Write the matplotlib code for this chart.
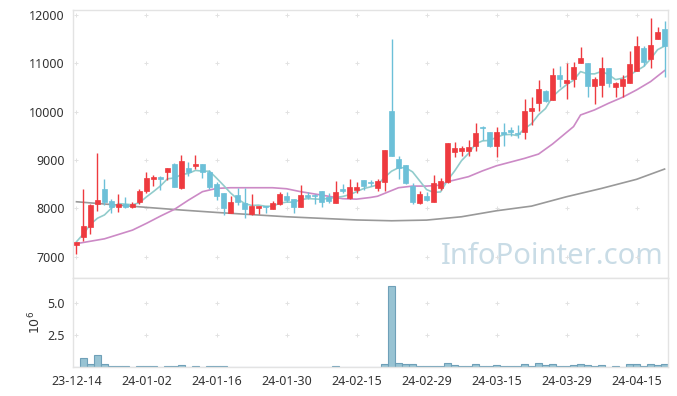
import numpy as np
import pandas as pd
import matplotlib
matplotlib.use("Agg")
import matplotlib.pyplot as plt
from matplotlib.patches import Rectangle

# trading days (KRX), 2023-12-14 .. 2024-04-19
holidays = ["2023-12-25", "2023-12-29", "2024-01-01", "2024-02-09",
            "2024-02-12", "2024-03-01", "2024-04-10"]
days = pd.bdate_range("2023-12-14", "2024-04-19")
days = days[~days.isin(pd.to_datetime(holidays))]

opens = [7250, 7415, 7620, 8090, 8410, 8150, 8020, 8090, 8020, 8122,
         8364, 8605, 8640, 8760, 8916, 8412, 8830, 8880, 8916, 8745,
         8503, 8310, 7908, 8267, 8115, 7880, 8012, 8046, 7990, 8088,
         8253, 8185, 8033, 8274, 8274, 8350, 8240, 8115, 8398, 8219,
         8377, 8584, 8550, 8426, 8550, 10013, 9012, 8895, 8467, 8102,
         8253, 8136, 8412, 8550, 9171, 9185, 9192, 9295, 9688, 9578,
         9295, 9578, 9620, 9564, 9585, 10020, 10186, 10434, 10240, 10758,
         10600, 10675, 11013, 11000, 10530, 10551, 10896, 10517, 10530, 10586,
         10848, 11310, 11082, 11496, 11703]
highs = [7310, 8410, 8080, 9137, 8600, 8190, 8290, 8240, 8140, 8410,
         8745, 8690, 8675, 8830, 8930, 9095, 8950, 9095, 8916, 8790,
         8550, 8310, 8253, 8426, 8426, 8288, 8046, 8046, 8143, 8336,
         8336, 8185, 8481, 8336, 8295, 8350, 8322, 8564, 8502, 8600,
         8550, 8584, 8584, 8600, 9205, 11496, 9081, 8895, 8529, 8364,
         8343, 8688, 8620, 9343, 9378, 9288, 9412, 9757, 9702, 9578,
         9690, 9757, 9690, 9723, 10262, 10296, 10654, 10448, 10896, 10944,
         11000, 11034, 11331, 11000, 10710, 11124, 10896, 10620, 10758, 11262,
         11565, 11358, 11931, 11758, 11883]
lows = [7050, 7330, 7460, 7950, 8067, 7895, 7930, 8000, 8005, 8088,
        8310, 8470, 8380, 8590, 8433, 8400, 8675, 8810, 8620, 8392,
        8170, 7860, 7895, 8067, 7810, 7860, 7880, 7895, 7977, 8067,
        8136, 7910, 8020, 8185, 8088, 8033, 8115, 8115, 8322, 8184,
        8310, 8377, 8467, 8357, 8357, 9088, 8600, 8502, 8088, 8088,
        8157, 8122, 8377, 8530, 9054, 9081, 9081, 9192, 9412, 9274,
        9068, 9295, 9495, 9447, 9426, 9723, 10013, 10206, 10240, 10517,
        10254, 10503, 11013, 10296, 10150, 10296, 10503, 10296, 10310, 10586,
        10848, 10944, 10896, 11496, 10710]
closes = [7310, 7635, 8068, 8170, 8136, 8020, 8090, 8020, 8100, 8357,
          8620, 8640, 8605, 8830, 8447, 8970, 8760, 8916, 8745, 8447,
          8262, 8012, 8130, 8122, 7985, 8046, 8046, 8020, 8115, 8295,
          8170, 8033, 8274, 8240, 8253, 8130, 8150, 8336, 8357, 8433,
          8447, 8467, 8515, 8564, 9205, 9088, 8826, 8516, 8136, 8295,
          8170, 8530, 8564, 9343, 9240, 9254, 9275, 9550, 9654, 9288,
          9578, 9536, 9585, 9530, 10013, 10082, 10468, 10227, 10758, 10675,
          10654, 10930, 11117, 10530, 10668, 10910, 10600, 10600, 10675, 10986,
          11358, 11034, 11379, 11641, 11365]
# volume in millions
volume = [0, 0.72, 0.2, 0.95, 0.2, 0.04, 0.04, 0.04, 0, 0.04,
          0.04, 0.04, 0, 0.04, 0.04, 0.13, 0, 0.04, 0, 0.04,
          0.04, 0.04, 0, 0, 0, 0, 0, 0, 0, 0,
          0, 0, 0, 0, 0, 0, 0, 0.04, 0, 0,
          0, 0, 0, 0, 0.25, 6.25, 0.34, 0.2, 0.2, 0.04,
          0.04, 0.04, 0.04, 0.34, 0.13, 0.04, 0.04, 0.26, 0.04, 0.04,
          0.12, 0.04, 0.04, 0.04, 0.26, 0.04, 0.34, 0.13, 0.26, 0.04,
          0.04, 0.13, 0.2, 0.13, 0.04, 0.13, 0, 0.04, 0, 0.2,
          0.2, 0.04, 0.2, 0.13, 0.2]

# longer moving averages (index, value)
ma20_idx = [0, 4, 8, 10, 12, 14, 16, 18, 20, 22, 28, 30, 32, 36, 38, 40, 42, 43,
            46, 48, 50, 52, 53, 56, 58, 60, 64, 66, 68, 71, 72, 74, 76, 78, 80, 82, 84]
ma20_val = [7270, 7370, 7550, 7690, 7840, 7980, 8170, 8345, 8412, 8426, 8426, 8405,
            8345, 8250, 8200, 8190, 8225, 8250, 8426, 8460, 8460, 8480, 8550, 8655,
            8775, 8880, 9033, 9122, 9330, 9690, 9930, 10035, 10172, 10296, 10448,
            10620, 10848]
ma60_idx = [0, 10, 15, 20, 30, 40, 45, 50, 55, 60, 65, 70, 75, 80, 84]
ma60_val = [8136, 8020, 7965, 7915, 7826, 7760, 7743, 7757, 7826, 7950, 8046,
            8240, 8412, 8600, 8812]

tick_idx = list(range(0, 85, 10))

UP = "#ee3a3f"
DOWN = "#6cc0d8"
SPINE = "#e3e3e3"

plt.rcParams["font.family"] = ["Noto Sans", "DejaVu Sans"]

fig = plt.figure(figsize=(6.77, 3.96), dpi=100)
ax = fig.add_axes([0.1078, 0.298, 0.879, 0.6767])
axv = fig.add_axes([0.1078, 0.0732, 0.879, 0.2248], sharex=ax)

x = np.arange(len(closes))
ma5 = pd.Series(closes).rolling(5, min_periods=1).mean()

# watermark
ax.text(0.805, 0.08, "InfoPointer.com", transform=ax.transAxes, ha="center",
        va="center", fontsize=21, color="#c9dce6", zorder=0)

ax.plot(ma60_idx, ma60_val, color="#999999", lw=1.2, zorder=1)
ax.plot(ma20_idx, ma20_val, color="#cc8ac6", lw=1.2, zorder=1)
ax.plot(x, ma5, color="#92cccc", lw=1.2, zorder=1)

w = 0.7
for i in range(len(closes)):
    o, h, l, c = opens[i], highs[i], lows[i], closes[i]
    col = UP if c >= o else DOWN
    ax.vlines(i, l, h, color=col, lw=1, zorder=2)
    lo, hi = min(o, c), max(o, c)
    ax.add_patch(Rectangle((i - w / 2, lo), w, max(hi - lo, 12),
                           facecolor=col, edgecolor=col, lw=0.5, zorder=3))

axv.bar(x, volume, width=1.0, color="#98c3d3", edgecolor="#6fa0b8", lw=0.8)

ax.set_xlim(-0.5, 84.5)
ax.set_ylim(6560, 12100)
axv.set_ylim(0, 6.9)

yt = [7000, 8000, 9000, 10000, 11000, 12000]
ax.set_yticks(yt)
ax.set_yticklabels([str(v) for v in yt])
axv.set_yticks([2.5, 5.0])
axv.set_yticklabels(["2.5", "5.0"])
axv.set_xticks(tick_idx)
axv.set_xticklabels([days[i].strftime("%y-%m-%d") for i in tick_idx])
ax.tick_params(axis="x", labelbottom=False)

for a in (ax, axv):
    a.tick_params(length=0, labelsize=9, colors="#333333", pad=6)
    for s in a.spines.values():
        s.set_color(SPINE)
        s.set_linewidth(1)
    a.set_facecolor("white")

# small "+" grid markers
gx, gy = np.meshgrid(tick_idx, yt)
ax.scatter(gx.ravel(), gy.ravel(), marker="+", s=8, color="#e2e2e2", lw=0.7, zorder=0)
gx, gy = np.meshgrid(tick_idx, [2.5, 5.0])
axv.scatter(gx.ravel(), gy.ravel(), marker="+", s=8, color="#e2e2e2", lw=0.7, zorder=0)

axv.set_ylabel(r"$10^6$", fontsize=9, color="#333333", labelpad=3)

fig.savefig("out.png", dpi=100)
